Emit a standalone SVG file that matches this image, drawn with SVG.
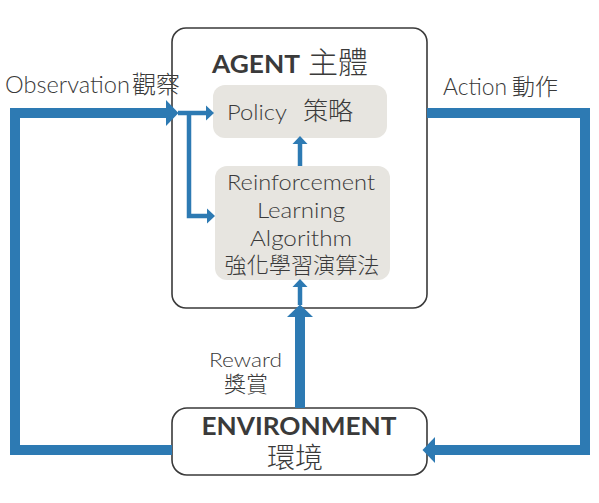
<svg xmlns="http://www.w3.org/2000/svg" width="599" height="503" viewBox="0 0 599 503">
<defs>
<style>
.box{fill:#ffffff;stroke:#3a3a3a;stroke-width:1.6}
.inner{fill:#e7e5e0;stroke:none}
.t{font-family:Lato,"Noto Sans CJK TC",sans-serif;fill:#3a3a3a;font-weight:300}
.b{font-weight:bold}
.thick{fill:none;stroke:#2d7ab3;stroke-width:10;stroke-linejoin:miter}
.thin{fill:none;stroke:#2d7ab3;stroke-width:4.5;stroke-linejoin:miter}
</style>
<marker id="big" markerUnits="userSpaceOnUse" markerWidth="14" markerHeight="28" refX="0" refY="13" orient="auto" viewBox="0 0 14 26">
<path d="M0,0 L12.5,13 L0,26 z" fill="#2d7ab3"/>
</marker>
<marker id="small" markerUnits="userSpaceOnUse" markerWidth="9" markerHeight="16" refX="0" refY="7.5" orient="auto" viewBox="0 0 9 15">
<path d="M0,0 L8,7.5 L0,15 z" fill="#2d7ab3"/>
</marker>
</defs>
<rect width="599" height="503" fill="#ffffff"/>

<g id="agent">
<rect class="box" x="172" y="28" width="255" height="280" rx="14"/>
<text class="t" x="212" y="73" font-size="25"><tspan class="b" textLength="88" lengthAdjust="spacingAndGlyphs">AGENT</tspan><tspan x="308" font-size="30">主體</tspan></text>
</g>

<g id="policy">
<rect class="inner" x="213" y="85" width="174" height="53" rx="12"/>
<text class="t" x="227" y="120" font-size="22"><tspan textLength="60" lengthAdjust="spacingAndGlyphs">Policy</tspan><tspan x="303" font-size="25">策略</tspan></text>
</g>

<g id="rl">
<rect class="inner" x="215" y="166" width="175" height="114" rx="12"/>
<text class="t" x="301" y="190" font-size="21" text-anchor="middle" textLength="148" lengthAdjust="spacingAndGlyphs">Reinforcement</text>
<text class="t" x="301" y="218" font-size="21" text-anchor="middle" textLength="88" lengthAdjust="spacingAndGlyphs">Learning</text>
<text class="t" x="301" y="246" font-size="21" text-anchor="middle" textLength="102" lengthAdjust="spacingAndGlyphs">Algorithm</text>
<text class="t" x="302" y="273" font-size="22" text-anchor="middle" textLength="155" lengthAdjust="spacingAndGlyphs">強化學習演算法</text>
</g>

<g id="environment">
<rect class="box" x="172" y="408" width="255" height="67" rx="15"/>
<text class="t b" x="299" y="435" font-size="25" text-anchor="middle" textLength="195" lengthAdjust="spacingAndGlyphs">ENVIRONMENT</text>
<text class="t" x="295" y="468" font-size="28" text-anchor="middle">環境</text>
</g>

<g id="connectors">
<path class="thick" d="M172,450 H15 V113 H166" marker-end="url(#big)"/>
<path class="thin" d="M178,113 H206" marker-end="url(#small)"/>
<path class="thin" d="M189,113 V216 H207" marker-end="url(#small)"/>
<path class="thin" d="M300,166 V144" marker-end="url(#small)"/>
<path class="thick" d="M300,408 V317" marker-end="url(#big)"/>
<path class="thin" d="M300,305 V287" marker-end="url(#small)"/>
<path class="thick" d="M427,113 H585 V450 H435" marker-end="url(#big)"/>
</g>

<g id="labels">
<text class="t" x="5" y="93" font-size="23"><tspan textLength="125" lengthAdjust="spacingAndGlyphs">Observation</tspan><tspan x="132" font-size="24">觀察</tspan></text>
<text class="t" x="443" y="95" font-size="23"><tspan textLength="64" lengthAdjust="spacingAndGlyphs">Action</tspan><tspan x="512" font-size="23">動作</tspan></text>
<text class="t" x="209" y="367" font-size="20" textLength="73" lengthAdjust="spacingAndGlyphs">Reward</text>
<text class="t" x="246" y="392" font-size="22" text-anchor="middle">獎賞</text>
</g>
</svg>
